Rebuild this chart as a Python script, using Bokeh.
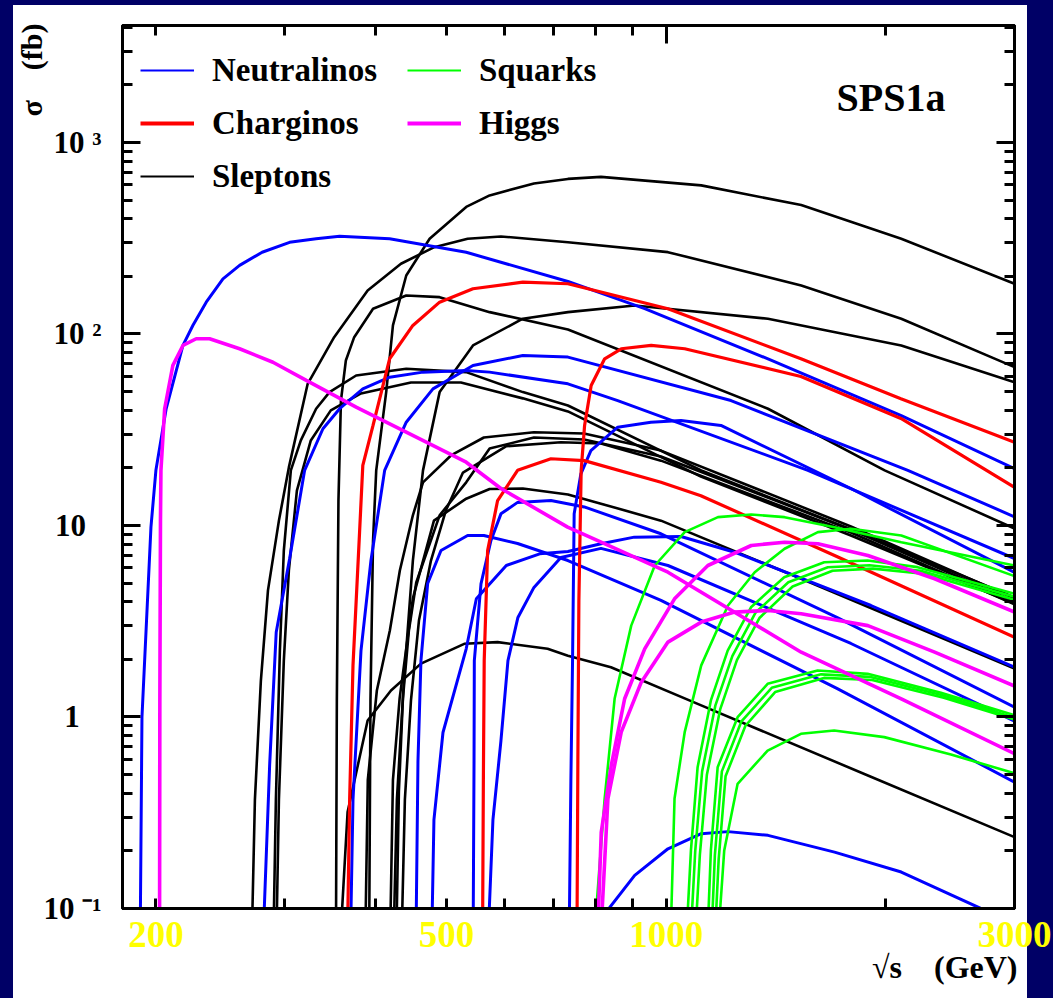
from bokeh.plotting import figure
from bokeh.models import (FixedTicker, Legend, LegendItem, Label, LogAxis, Range1d,
                          Spacer, CustomJSTickFormatter, Title)
from bokeh.layouts import row, column
from bokeh.embed import file_html
from bokeh.resources import INLINE

# ---------------- data: sqrt(s) [GeV] , sigma [fb] ----------------
# Neutralinos
B1_x = [190.2, 191.4, 196.9, 200.0, 206.6, 217.8, 224.8, 234.4, 247.1, 260.4, 279.6, 304.9, 331.5, 357.0, 418.0, 532.2, 733.5, 934.5, 1378.6, 2099, 3000]
B1_y = [0.05, 1.0, 9.8, 19.4, 40.8, 87.1, 111, 146.6, 194, 228, 267, 301, 314, 324, 314, 267, 188, 135.5, 74.1, 37.5, 19.8]
B2_x = [279.6, 286.3, 292.3, 304.9, 319.7, 338.7, 357.0, 384.1, 418.0, 464.4, 532.2, 573.0, 733.5, 858.2, 1563.6, 3000]
B2_y = [0.05, 0.56, 2.77, 6.7, 19.4, 32.0, 40.7, 51.7, 59.5, 63.2, 64.5, 63.2, 54.9, 44.9, 19.4, 6.72]
B3_x = [368.9, 372.4, 381.9, 394.1, 411.5, 440.5, 479.2, 543.7, 636.3, 733.5, 1226.8, 2143, 3000]
B3_y = [0.05, 0.37, 2.22, 6.56, 19.4, 34.6, 51.7, 68.5, 77.2, 75.7, 44.9, 19.4, 11.1]
B4_x = [453.8, 457.1, 461.4, 471.3, 491.5, 534.6, 562.7, 625.8, 733.5, 983.7, 1713, 3000]
B4_y = [0.05, 0.59, 1.97, 4.98, 7.40, 8.87, 8.87, 8.05, 6.56, 4.06, 1.41, 0.457]
B5_x = [543.7, 545.5, 546.0, 557.6, 575.4, 593.8, 625.8, 695.2, 772.3, 983.7, 1713, 3000]
B5_y = [0.05, 0.59, 1.97, 4.96, 8.35, 11.5, 13.2, 13.5, 12.5, 9.05, 3.31, 1.125]
B6_x = [735.7, 740.4, 744.3, 748.1, 764.1, 788.6, 858.2, 952.9, 1047.8, 1188.6, 1790.7, 3000]
B6_y = [0.05, 0.47, 1.97, 11.5, 18.6, 24.6, 32.6, 34.6, 35.3, 33.3, 15.6, 5.68]
B7_x = [476.6, 480.7, 494.6, 532.2, 549.5, 603.9, 671.0, 733.5, 814.1, 904.2, 1047.8, 1240.9, 1907.8, 3000]
B7_y = [0.05, 0.29, 0.83, 2.27, 4.14, 6.18, 7.11, 7.31, 8.03, 8.69, 8.76, 7.25, 3.82, 1.82]
B8_x = [568.2, 579.0, 593.8, 607.1, 626.5, 659.0, 717.5, 814.1, 1005.6, 1790.7, 3000]
B8_y = [0.05, 0.29, 0.75, 1.97, 3.31, 4.75, 6.81, 7.59, 6.18, 2.42, 0.95]
B9_x = [826.0, 905.4, 1005.6, 1116.9, 1215.2, 1378.6, 1700.7, 2099, 2730, 2850]
B9_y = [0.095, 0.149, 0.205, 0.246, 0.252, 0.241, 0.197, 0.155, 0.098, 0.085]

# Charginos
R1_x = [365.4, 368.5, 372.4, 380.2, 384.1, 396.7, 418.0, 449.8, 489.4, 543.7, 636.3, 733.5, 1005.6, 1529.5, 2096.6, 3000]
R1_y = [0.05, 0.375, 1.86, 9.23, 20.6, 33.3, 74.2, 110.8, 146.6, 172.2, 186.4, 182.9, 135.4, 74.2, 45.9, 27.2]
R2_x = [560.1, 561.8, 563.3, 569.4, 587.6, 625.8, 695.2, 772.3, 983.7, 1115.7, 1700.7, 3000]
R2_y = [0.05, 0.47, 1.97, 7.40, 13.5, 19.4, 22.3, 21.8, 16.8, 14.3, 6.97, 2.61]
R3_x = [754.4, 756.9, 759.3, 764.8, 773.1, 789.3, 823.6, 867.8, 953.8, 1060.1, 1529.5, 2096.6, 3000]
R3_y = [0.05, 0.59, 4.06, 19.4, 33.3, 53.8, 74.2, 83.7, 87.1, 83.7, 60.0, 36.2, 15.8]

# Sleptons
K1_x = [391.7, 393.5, 396.7, 400.7, 413.5, 422.4, 440.5, 474.2, 532.2, 573.0, 659.0, 733.5, 814.1, 1116.9, 1531, 2099, 3000]
K1_y = [0.05, 1.22, 8.35, 19.4, 49.7, 110.8, 202, 314, 460.5, 528.8, 611, 645, 661, 597, 471, 314, 183]
K2_x = [270.1, 273.3, 278.5, 284.8, 294.8, 304.2, 322.8, 350.9, 390.0, 433.2, 481.2, 534.6, 593.8, 733.5, 1005.6, 1531, 2099, 3000]
K2_y = [0.05, 0.37, 1.55, 4.58, 10.6, 20.1, 54.9, 96.2, 168.7, 232.6, 284, 314, 323, 301.5, 267.4, 179.2, 120.1, 67.1]
K3_x = [422.4, 427.7, 437.3, 449.8, 464.4, 489.4, 543.7, 636.3, 733.5, 905.4, 1378.6, 2099, 3000]
K3_y = [0.05, 0.37, 1.55, 6.56, 19.4, 49.7, 87.1, 120.1, 130, 140.9, 120.1, 87.1, 56.0]
K4_x = [352.8, 353.9, 355.7, 358.5, 364.1, 373.8, 396.7, 440.5, 489.4, 573.0, 733.5, 1378.6, 1991.8, 3000]
K4_y = [0.05, 1.22, 13.5, 44.9, 72.7, 96.2, 135.4, 158.9, 155.7, 130, 105.6, 40.7, 19.4, 9.64]
K5_x = [289.3, 292.0, 295.7, 299.4, 306.1, 315.9, 331.5, 345.8, 376.1, 440.5, 532.2, 636.3, 733.5, 1116.9, 1790.7, 3000]
K5_y = [0.05, 0.37, 2.22, 7.40, 19.4, 27.8, 40.7, 49.7, 60.7, 65.8, 63.2, 49.7, 42.3, 19.4, 9.53, 4.21]
K6_x = [292.0, 294.8, 299.4, 304.2, 312.0, 326.0, 347.2, 381.9, 447.1, 523.4, 636.3, 733.5, 1115.7, 1790.7, 3000]
K6_y = [0.05, 0.37, 1.97, 5.82, 15.2, 27.8, 39.9, 48.9, 55.8, 55.8, 46.1, 39.4, 18.0, 8.87, 3.91]
K7_x = [418.0, 422.4, 431.4, 449.8, 480.7, 532.2, 573.0, 636.3, 733.5, 814.1, 983.7, 1531, 3000]
K7_y = [0.05, 0.47, 1.25, 4.16, 10.6, 13.8, 15.5, 15.6, 14.5, 13.0, 10.6, 5.27, 1.79]
K8_x = [356.2, 366.1, 390.0, 419.8, 461.4, 528.9, 587.6, 688.0, 733.5, 840.1, 1116.9, 1889.3, 3000]
K8_y = [0.05, 0.319, 0.958, 1.375, 1.90, 2.41, 2.46, 2.27, 2.09, 1.82, 1.15, 0.495, 0.236]
K9_x = [386.6, 390.2, 401.5, 418.3, 431.7, 449.8, 464.4, 507.2, 562.7, 659.0, 771.6, 983.7, 1790.7, 3000]
K9_y = [0.05, 0.47, 1.375, 2.83, 5.82, 11.3, 16.8, 23.2, 28.8, 30.7, 30.2, 24.6, 9.88, 4.16]
K10_x = [426.3, 430.4, 435.9, 444.2, 454.6, 489.4, 532.2, 573.0, 659.0, 771.6, 983.7, 1790.7, 3000]
K10_y = [0.05, 0.41, 1.25, 2.83, 5.04, 11.3, 16.8, 25.2, 28.8, 28.1, 22.9, 9.53, 4.01]
K11_x = [433.2, 438.6, 447.1, 458.5, 476.2, 499.2, 526.8, 603.3, 717.5, 814.1, 983.7, 1790.7, 3000]
K11_y = [0.05, 0.37, 1.22, 3.19, 6.56, 11.98, 18.9, 25.9, 27.2, 26.8, 21.8, 9.19, 3.87]

# Squarks
G1_x = [798.8, 823.6, 850.0, 895.6, 964.7, 1060.1, 1177.4, 1307.8, 1452.6, 1700.7, 2099, 3000]
G1_y = [0.08, 0.375, 1.25, 3.00, 6.18, 9.23, 11.05, 11.4, 11.05, 9.80, 8.18, 6.18]
G2_x = [1015.0, 1026.7, 1060.1, 1116.9, 1215.2, 1322.1, 1452.6, 1613.7, 1792.8, 2099, 3000]
G2_y = [0.08, 0.375, 0.833, 1.86, 3.82, 5.70, 7.56, 9.23, 9.61, 8.87, 5.44]
G3a_x = [1067.6, 1081.2, 1104.2, 1151.4, 1214.1, 1306.7, 1450.9, 1646.4, 1887.6, 2210, 3000]
G3a_y = [0.08, 0.201, 0.547, 1.22, 2.22, 3.74, 5.37, 6.43, 6.56, 6.06, 4.40]
G3b_x = [1082, 1096, 1120, 1168, 1232, 1325, 1470, 1665, 1900, 2230, 3000]
G3b_y = [0.08, 0.2, 0.52, 1.15, 2.08, 3.5, 5.05, 6.05, 6.2, 5.8, 4.25]
G3c_x = [1098, 1112, 1137, 1186, 1250, 1343, 1490, 1690, 1920, 2250, 3000]
G3c_y = [0.08, 0.19, 0.5, 1.1, 1.98, 3.3, 4.8, 5.8, 5.95, 5.6, 4.1]
G4a_x = [1140.6, 1151.4, 1176.3, 1252.7, 1377.1, 1612.3, 1887.6, 2378.9, 3000]
G4a_y = [0.08, 0.201, 0.547, 0.998, 1.49, 1.75, 1.68, 1.34, 1.02]
G4b_x = [1155, 1166, 1192, 1268, 1395, 1630, 1900, 2390, 3000]
G4b_y = [0.08, 0.19, 0.52, 0.95, 1.42, 1.67, 1.62, 1.30, 0.99]
G4c_x = [1168, 1180, 1206, 1284, 1410, 1645, 1915, 2400, 3000]
G4c_y = [0.08, 0.18, 0.49, 0.9, 1.35, 1.6, 1.56, 1.26, 0.97]
G5_x = [1181, 1200.9, 1252.7, 1377.1, 1529.5, 1698.7, 1989.4, 2455, 3000]
G5_y = [0.08, 0.201, 0.448, 0.668, 0.817, 0.850, 0.785, 0.637, 0.508]

# Higgs
H1_x = [202.3, 202.5, 202.9, 203.2, 205.6, 211.0, 217.8, 227.1, 236.9, 260.4, 289.3, 321.4, 376.1, 440.5, 532.2, 593.8, 732.9, 1005.6, 1531, 2099, 3000]
H1_y = [0.05, 1.22, 10.6, 19.4, 40.7, 68.5, 87.1, 94.4, 94.4, 83.7, 71.2, 57.2, 41.5, 30.7, 21.4, 15.6, 9.80, 5.70, 2.18, 1.245, 0.643]
H2_x = [806.3, 814.8, 840.9, 877.2, 934.5, 1026.7, 1140.6, 1307.8, 1452.6, 1613.7, 1889.3, 2332, 3000]
H2_y = [0.08, 0.25, 0.558, 1.245, 2.27, 4.14, 6.18, 7.86, 8.18, 8.03, 6.97, 5.27, 3.53]
H3_x = [814.8, 832.1, 867.8, 924.5, 1005.6, 1116.9, 1240.9, 1378.6, 1531, 1889.3, 2332, 3000]
H3_y = [0.08, 0.374, 0.833, 1.52, 2.46, 3.13, 3.53, 3.60, 3.46, 3.00, 2.18, 1.45]

groups = [
    ("Sleptons", "#000000", 2.6, [(K1_x, K1_y), (K2_x, K2_y), (K3_x, K3_y), (K4_x, K4_y), (K5_x, K5_y),
                                   (K6_x, K6_y), (K7_x, K7_y), (K8_x, K8_y), (K9_x, K9_y), (K10_x, K10_y),
                                   (K11_x, K11_y)]),
    ("Neutralinos", "#0000ff", 3.0, [(B1_x, B1_y), (B2_x, B2_y), (B3_x, B3_y), (B4_x, B4_y), (B5_x, B5_y),
                                      (B6_x, B6_y), (B7_x, B7_y), (B8_x, B8_y), (B9_x, B9_y)]),
    ("Charginos", "#ff0000", 3.2, [(R1_x, R1_y), (R2_x, R2_y), (R3_x, R3_y)]),
    ("Squarks", "#00ff00", 2.6, [(G1_x, G1_y), (G2_x, G2_y), (G3a_x, G3a_y), (G3b_x, G3b_y), (G3c_x, G3c_y),
                                  (G4a_x, G4a_y), (G4b_x, G4b_y), (G4c_x, G4c_y), (G5_x, G5_y)]),
    ("Higgs", "#ff00ff", 3.6, [(H1_x, H1_y), (H2_x, H2_y), (H3_x, H3_y)]),
]

# axis ticks and tick labels
y_major = [0.1, 1, 10, 100, 1000]
y_minor = [0.2, 0.3, 0.4, 0.5, 0.6, 0.7, 0.8, 0.9, 2, 3, 4, 5, 6, 7, 8, 9,
           20, 30, 40, 50, 60, 70, 80, 90, 200, 300, 400, 500, 600, 700, 800, 900, 2000, 3000, 4000]
y_labels = {0.1: "10 \u207b\u00b9", 1: "1\u2007\u2009", 10: "10\u2007", 100: "10 \u00b2", 1000: "10 \u00b3"}
x_top_major = [1000]
x_top_minor = [200, 300, 400, 500, 600, 700, 800, 900, 2000, 3000]
x_bot_major = [200, 500, 1000, 3000]
x_bot_minor = [300, 400, 600, 700, 800, 900, 2000]
x_labels = {200: "200", 500: "500", 1000: "1000", 3000: "3000"}
x_title = "\u221as\u00a0\u00a0\u00a0\u00a0(GeV)"
y_title = "\u03c3\u00a0\u00a0\u00a0\u00a0(fb)"

# ---------------- figure ----------------
FONT = "Liberation Serif"
NAVY = "#000066"
W, H = 1040, 993
BL, BR, BT, BB = 109, 39, 20, 90
XMIN, XMAX = 180.0, 3000.0
YMIN, YMAX = 0.1, 4080.0

p = figure(width=W, height=H, x_axis_type="log", y_axis_type="log",
           x_range=Range1d(XMIN, XMAX), y_range=Range1d(YMIN, YMAX),
           output_backend="svg", toolbar_location=None,
           min_border_left=BL, min_border_right=BR, min_border_top=BT, min_border_bottom=BB)
p.background_fill_color = "white"
p.border_fill_alpha = 0.0
p.styles = {"background": "linear-gradient(to right, #ffffff 0px, #ffffff %dpx, %s %dpx, %s 100%%)"
            % (W - 26, NAVY, W - 26, NAVY)}
p.xgrid.visible = False
p.ygrid.visible = False
p.outline_line_color = "black"
p.outline_line_width = 3

blank = CustomJSTickFormatter(code="return '';")

def style_axis(ax, major, minor, major_in=18):
    ax.ticker = FixedTicker(ticks=major, minor_ticks=minor)
    ax.formatter = blank
    ax.axis_line_width = 3
    ax.axis_line_color = "black"
    ax.major_tick_in = major_in
    ax.major_tick_out = 0
    ax.minor_tick_in = 10
    ax.minor_tick_out = 0
    ax.major_tick_line_width = 3
    ax.minor_tick_line_width = 3
    ax.major_tick_line_color = "black"
    ax.minor_tick_line_color = "black"
    ax.major_label_standoff = 0

# bottom axis: ticks + yellow labels
xb = p.xaxis[0]
style_axis(xb, x_bot_major, x_bot_minor, major_in=10)
xb.major_label_overrides = x_labels
xb.major_label_standoff = 13
xb.major_label_text_font = FONT
xb.major_label_text_font_style = "bold"
xb.major_label_text_font_size = "37px"
xb.major_label_text_color = "#ffff00"

# left axis: ticks + labels
yl = p.yaxis[0]
style_axis(yl, y_major, y_minor)
yl.major_label_overrides = y_labels
yl.major_label_standoff = 21
yl.major_label_text_font = FONT
yl.major_label_text_font_style = "bold"
yl.major_label_text_font_size = "31px"
yl.major_label_text_color = "black"

top_ax = LogAxis()
style_axis(top_ax, x_top_major, x_top_minor)
p.add_layout(top_ax, "above")
right_ax = LogAxis()
style_axis(right_ax, y_major, y_minor)
p.add_layout(right_ax, "right")

# axis titles as side-panel titles (end-aligned like the original)
p.add_layout(Title(text=x_title, align="right", offset=-3, standoff=-6,
                   text_font=FONT, text_font_style="bold", text_font_size="32px",
                   text_color="black"), "below")
p.add_layout(Title(text=y_title, align="right", offset=-2, standoff=-15,
                   text_font=FONT, text_font_style="bold", text_font_size="30px",
                   text_color="black"), "left")

# curves
for name, col, lw, curves in groups:
    for cx, cy in curves:
        p.line(cx, cy, line_color=col, line_width=lw)

# legend samples
nan = float("nan")
samples = {}
for name, col, lw in [("Neutralinos", "#0000ff", 2), ("Charginos", "#ff0000", 4), ("Sleptons", "#000000", 2),
                      ("Squarks", "#00ff00", 2), ("Higgs", "#ff00ff", 4)]:
    samples[name] = p.line(x=[nan], y=[nan], line_color=col, line_width=lw)

def make_legend(names, loc):
    return Legend(items=[LegendItem(label=n, renderers=[samples[n]]) for n in names],
                  location=loc, orientation="vertical", padding=0, margin=0, spacing=13,
                  glyph_width=54, glyph_height=40, label_height=40, label_standoff=18,
                  label_text_font=FONT, label_text_font_style="bold", label_text_font_size="33px",
                  label_text_color="black", border_line_alpha=0, background_fill_alpha=0)

p.add_layout(make_legend(["Neutralinos", "Charginos", "Sleptons"], (18, 712)))
p.add_layout(make_legend(["Squarks", "Higgs"], (285, 765)))

# plot tag (inside the frame)
FL = 13 + BL
FW = W - BL - BR
FTOP = 5 + BT
FH = H - BT - BB
FBOT = FTOP + FH
def px2x(px):
    return XMIN * (XMAX / XMIN) ** ((px - FL) / FW)
def py2y(py):
    return YMIN * (YMAX / YMIN) ** ((FBOT - py) / FH)

p.add_layout(Label(x=px2x(836), y=py2y(97), text="SPS1a", text_font=FONT, text_font_style="bold",
                   text_font_size="40px", text_color="black", text_align="left",
                   text_baseline="alphabetic"))

layout = column(Spacer(width=W + 13, height=5), row(Spacer(width=13, height=H), p))
html = file_html(layout, INLINE, title="SPS1a cross sections")
html = html.replace("</head>", "<style>html, body { background-color: %s; }</style></head>" % NAVY, 1)
open("out.html", "w").write(html)
